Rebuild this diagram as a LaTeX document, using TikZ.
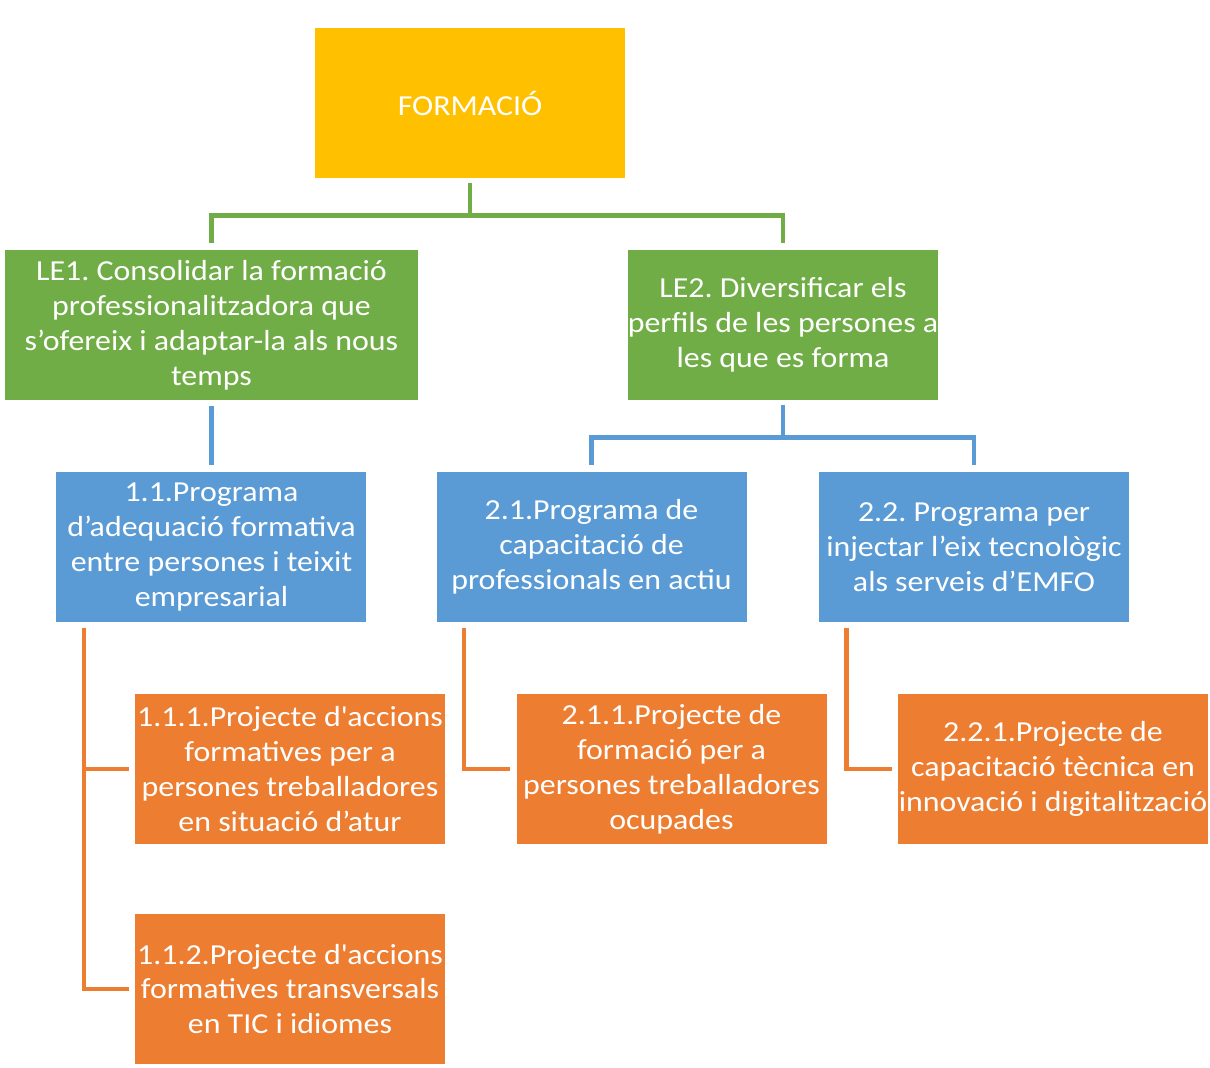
\documentclass[tikz,border=0pt]{standalone}
\usepackage{fontspec}
\setmainfont{Carlito}[FakeStretch=1.1]
\usetikzlibrary{positioning, calc}
\definecolor{formyellow}{HTML}{FFC000}
\definecolor{legreen}{HTML}{70AD47}
\definecolor{progblue}{HTML}{5B9BD5}
\definecolor{projorange}{HTML}{ED7D31}
\newcommand{\boxfont}{\fontsize{16.5}{19.9}\selectfont}
\tikzstyle{topbox} = [rectangle, minimum width=6.2cm, minimum height=3cm, inner xsep=0pt, inner ysep=2pt, text centered, fill=formyellow, text=white, font=\boxfont]
\tikzstyle{linebox} = [rectangle, minimum width=6.2cm, minimum height=3cm, inner xsep=0pt, inner ysep=2pt, align=center, fill=legreen, text=white, font=\boxfont]
\tikzstyle{progbox} = [rectangle, minimum width=6.2cm, minimum height=3cm, inner xsep=0pt, inner ysep=2pt, align=center, fill=progblue, text=white, font=\boxfont]
\tikzstyle{projbox} = [rectangle, minimum width=6.2cm, minimum height=3cm, inner xsep=0pt, inner ysep=2pt, align=center, fill=projorange, text=white, font=\boxfont]
\tikzstyle{gline} = [draw=legreen, line width=2.6pt]
\tikzstyle{bline} = [draw=progblue, line width=2.6pt]
\tikzstyle{oline} = [draw=projorange, line width=2.6pt]
\frenchspacing

\begin{document}
\begin{tikzpicture}[node distance=4.44cm]
\useasboundingbox (-9.4,2.06) rectangle (14.8,-19.28);
\node (form) [topbox] {FORMACIÓ};
\node (le1) [linebox, minimum width=8.26cm, below of=form, xshift=-5.17cm] {LE1. Consolidar la formació\\professionalitzadora que\\s’ofereix i adaptar-la als nous\\temps};
\node (le2) [linebox, below of=form, xshift=6.26cm] {LE2. Diversificar els\\perfils de les persones a\\les que es forma};
\node (p11) [progbox, below of=le1] {1.1.Programa\\d’adequació formativa\\entre persones i teixit\\empresarial};
\node (p21) [progbox, below of=le2, xshift=-3.83cm] {2.1.Programa de\\capacitació de\\professionals en actiu};
\node (p22) [progbox, below of=le2, xshift=3.82cm] {2.2. Programa per\\injectar l’eix tecnològic\\als serveis d’EMFO};
\node (p111) [projbox, below of=p11, xshift=1.57cm] {1.1.1.Projecte d\textquotesingle accions\\formatives per a\\persones treballadores\\en situació d’atur};
\node (p112) [projbox, below of=p111, yshift=0.04cm] {1.1.2.Projecte d\textquotesingle accions\\formatives transversals\\en TIC i idiomes};
\node (p211) [projbox, below of=p21, xshift=1.6cm] {2.1.1.Projecte de\\formació per a\\persones treballadores\\ocupades};
\node (p221) [projbox, below of=p22, xshift=1.58cm] {2.2.1.Projecte de\\capacitació tècnica en\\innovació i digitalització};
\coordinate (gjoin) at ($(form.south)+(0,-0.74)$);
\coordinate (bjoin) at ($(le2.south)+(0,-0.74)$);
\coordinate (o11) at ($(p11.south west)+(0.56,0)$);
\coordinate (o21) at ($(p21.south west)+(0.56,0)$);
\coordinate (o22) at ($(p22.south west)+(0.56,0)$);
\draw [gline, shorten <=0.1cm] (form.south) -- (gjoin);
\draw [gline, shorten <=0.14cm, shorten >=0.14cm] (le1.north) |- (gjoin) -| (le2.north);
\draw [bline, shorten <=0.12cm, shorten >=0.14cm] (le1.south) -- (le1.south |- p11.north);
\draw [bline, shorten <=0.1cm] (le2.south) -- (bjoin);
\draw [bline, shorten <=0.14cm, shorten >=0.14cm] (p21.north) |- (bjoin) -| (p22.north);
\draw [oline, shorten <=0.12cm, shorten >=0.12cm] (o11) |- (p111.west);
\draw [oline, shorten <=0.12cm, shorten >=0.12cm] (o11) |- (p112.west);
\draw [oline, shorten <=0.12cm, shorten >=0.12cm] (o21) |- (p211.west);
\draw [oline, shorten <=0.12cm, shorten >=0.12cm] (o22) |- (p221.west);
\end{tikzpicture}
\end{document}
